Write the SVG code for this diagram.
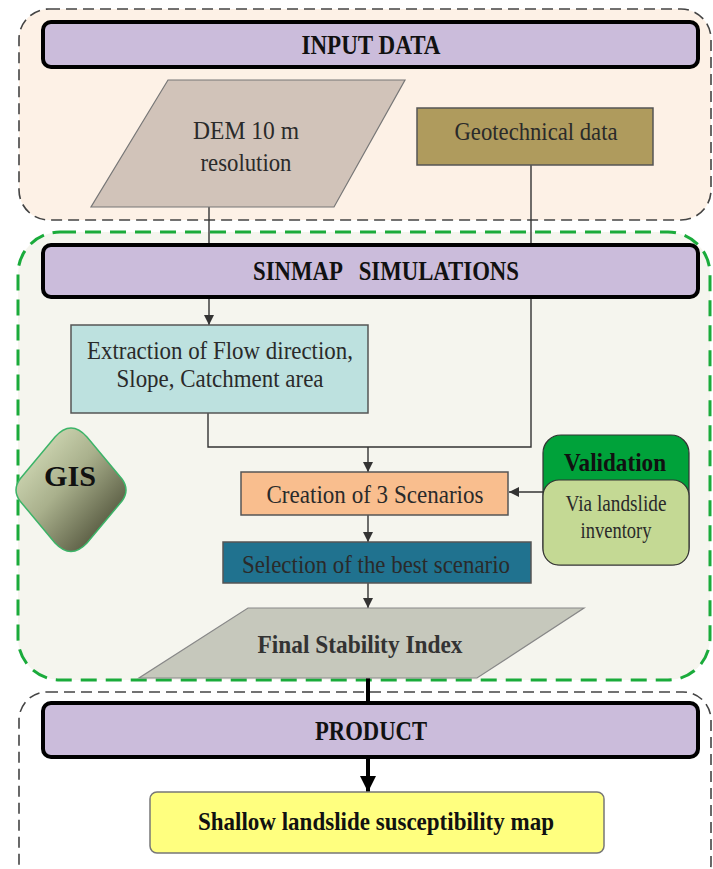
<svg xmlns="http://www.w3.org/2000/svg" width="713" height="869" viewBox="0 0 713 869">
<style>
text{font-family:"Liberation Serif","Times New Roman",serif;fill:#2a2a2a;text-anchor:middle;dominant-baseline:central}
.b{font-weight:bold;fill:#111}
.hdr{fill:#cbbcdb;stroke:#000;stroke-width:4}
.ln{fill:none;stroke:#333;stroke-width:1.4}
.thick{fill:none;stroke:#000;stroke-width:4}
.box{stroke:#555;stroke-width:1.5}
</style>
<defs>
<marker id="ah" viewBox="0 0 10 10" refX="10" refY="5" markerWidth="10" markerHeight="10" markerUnits="userSpaceOnUse" orient="auto"><path d="M0,0 L10,5 L0,10 z" fill="#333"/></marker>
<marker id="ahb" viewBox="0 0 10 10" refX="10" refY="5" markerWidth="16" markerHeight="16" markerUnits="userSpaceOnUse" orient="auto"><path d="M0,0 L10,5 L0,10 z" fill="#000"/></marker>
<linearGradient id="gisg" x1="0" y1="0" x2="1" y2="1"><stop offset="0" stop-color="#e3ecc8"/><stop offset="0.45" stop-color="#a9b08c"/><stop offset="1" stop-color="#33331f"/></linearGradient>
</defs>
<g id="input-container"><rect x="19" y="9" width="692" height="211" rx="30" fill="#fdf1e6" stroke="#444" stroke-width="1.6" stroke-dasharray="11 6"/></g>
<g id="sinmap-container"><rect x="18" y="232" width="692" height="448" rx="42" fill="#f5f5ee" stroke="#1aab3b" stroke-width="3" stroke-dasharray="16 9"/></g>
<g id="product-container"><rect x="19" y="692" width="692" height="200" rx="28" fill="#fff" stroke="#444" stroke-width="1.6" stroke-dasharray="11 6"/></g>
<g id="connectors">
<line class="ln" x1="209" y1="207" x2="209" y2="245"/>
<line class="ln" x1="531" y1="165" x2="531" y2="245"/>
<line class="ln" x1="209" y1="299" x2="209" y2="325" marker-end="url(#ah)"/>
<polyline class="ln" points="208,413 208,447 531,447 531,297"/>
<line class="ln" x1="368" y1="447" x2="368" y2="472" marker-end="url(#ah)"/>
<line class="ln" x1="543" y1="492" x2="509" y2="492" marker-end="url(#ah)"/>
<line class="ln" x1="368" y1="515" x2="368" y2="542" marker-end="url(#ah)"/>
<line class="ln" x1="368" y1="583" x2="368" y2="608" marker-end="url(#ah)"/>
<line class="thick" x1="368" y1="678" x2="368" y2="703"/>
<line class="thick" x1="368" y1="759" x2="368" y2="792" marker-end="url(#ahb)"/>
</g>
<g id="input-data"><rect class="hdr" x="43" y="22" width="655" height="45" rx="8"/><text class="b" x="371" y="45" font-size="27" textLength="139" lengthAdjust="spacingAndGlyphs">INPUT DATA</text></g>
<g id="dem"><polygon points="168,80 405,80 334,207 91,207" fill="#d1c3b9" stroke="#777" stroke-width="1.2"/><text x="246" y="130" font-size="26" textLength="106" lengthAdjust="spacingAndGlyphs">DEM 10 m</text><text x="246" y="162" font-size="26" textLength="91" lengthAdjust="spacingAndGlyphs">resolution</text></g>
<g id="geotechnical"><rect class="box" x="417" y="108" width="236" height="57" fill="#af9b5d"/><text x="536" y="131" font-size="26" textLength="163" lengthAdjust="spacingAndGlyphs">Geotechnical data</text></g>
<g id="sinmap"><rect class="hdr" x="43" y="245" width="655" height="52" rx="8"/><text class="b" x="386" y="271" font-size="27" textLength="266" lengthAdjust="spacingAndGlyphs" xml:space="preserve">SINMAP   SIMULATIONS</text></g>
<g id="extraction"><rect class="box" x="71" y="325" width="297" height="88" fill="#bde1df"/><text x="220" y="350" font-size="26" textLength="266" lengthAdjust="spacingAndGlyphs">Extraction of Flow direction,</text><text x="220" y="378" font-size="26" textLength="207" lengthAdjust="spacingAndGlyphs">Slope, Catchment area</text></g>
<g id="gis"><path d="M71,428 Q79,428 87,437 L122,479 Q130,490 122,501 L87,543 Q71,560 55,543 L20,501 Q12,490 20,479 L55,437 Q63,428 71,428 z" fill="url(#gisg)" stroke="#3cb468" stroke-width="1.5"/><text class="b" x="70" y="475" font-size="30" textLength="52" lengthAdjust="spacingAndGlyphs">GIS</text></g>
<g id="creation"><rect class="box" x="241" y="472" width="267" height="43" fill="#f9be8e"/><text x="375" y="494" font-size="26" textLength="217" lengthAdjust="spacingAndGlyphs">Creation of 3 Scenarios</text></g>
<g id="validation"><rect x="543" y="435" width="146" height="130" rx="18" fill="#00a23a" stroke="#333" stroke-width="1.2"/><rect x="543" y="480" width="146" height="85" rx="16" fill="#c4d994" stroke="#333" stroke-width="1.2"/><text class="b" x="615" y="462" font-size="25" textLength="102" lengthAdjust="spacingAndGlyphs">Validation</text><text x="616" y="503" font-size="24" textLength="101" lengthAdjust="spacingAndGlyphs">Via landslide</text><text x="616" y="530" font-size="24" textLength="71" lengthAdjust="spacingAndGlyphs">inventory</text></g>
<g id="selection"><rect class="box" x="223" y="542" width="308" height="41" fill="#20728f" stroke="#222"/><text x="376" y="564" font-size="26" textLength="268" lengthAdjust="spacingAndGlyphs">Selection of the best scenario</text></g>
<g id="final-index"><polygon points="248,608 584,608 477,678 139,678" fill="#c6c8bc" stroke="#888" stroke-width="1.2"/><text class="b" x="360" y="644" font-size="26" style="fill:#333" textLength="205" lengthAdjust="spacingAndGlyphs">Final Stability Index</text></g>
<g id="product"><rect class="hdr" x="43" y="703" width="655" height="54" rx="8"/><text class="b" x="371" y="731" font-size="27" textLength="112" lengthAdjust="spacingAndGlyphs">PRODUCT</text></g>
<g id="map"><rect x="150" y="792" width="454" height="61" rx="7" fill="#ffff7f" stroke="#777" stroke-width="1.5"/><text class="b" x="376" y="821" font-size="26" textLength="356" lengthAdjust="spacingAndGlyphs">Shallow landslide susceptibility map</text></g>
</svg>
